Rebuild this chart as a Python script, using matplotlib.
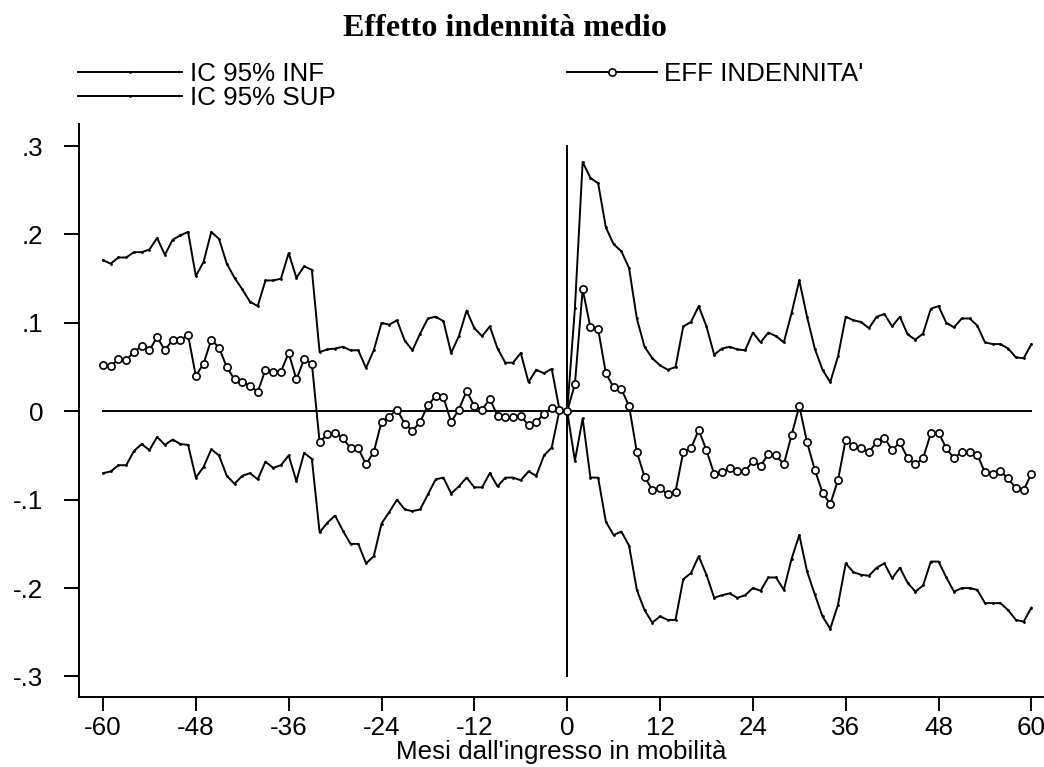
import numpy as np
import matplotlib
matplotlib.use("Agg")
import matplotlib.pyplot as plt

plt.rcParams["font.family"] = ["Liberation Sans", "DejaVu Sans"]

# months relative to entry into mobility
mesi = np.arange(-60, 61)

# upper 95% confidence bound
ic_sup = [
    0.171, 0.167, 0.174, 0.174, 0.180, 0.180, 0.183, 0.196, 0.177, 0.194,
    0.199, 0.203, 0.153, 0.169, 0.203, 0.195, 0.167, 0.151, 0.138, 0.124,
    0.119, 0.148, 0.148, 0.150, 0.179, 0.151, 0.164, 0.160,
    0.067,
    0.070, 0.071, 0.073, 0.069, 0.069, 0.049, 0.069, 0.100, 0.098, 0.103,
    0.080, 0.069, 0.088, 0.105, 0.107, 0.102, 0.066, 0.085, 0.114, 0.094,
    0.085, 0.096, 0.071, 0.055, 0.055, 0.066, 0.033, 0.047, 0.043, 0.048,
    0.002,
    0.000,
    0.117, 0.282, 0.264, 0.258, 0.208, 0.189, 0.181, 0.162, 0.105, 0.073,
    0.060, 0.052, 0.047, 0.050, 0.096, 0.101, 0.119, 0.096, 0.064, 0.071,
    0.073, 0.070, 0.069, 0.089, 0.078, 0.089, 0.085, 0.078, 0.111, 0.148,
    0.107,
    0.071, 0.047, 0.033, 0.062, 0.107, 0.103, 0.101, 0.094, 0.107, 0.110,
    0.096, 0.107, 0.087, 0.081, 0.088, 0.116, 0.119, 0.100, 0.095, 0.105,
    0.105, 0.097, 0.078, 0.076, 0.076, 0.071, 0.061, 0.060, 0.076,
]

# point estimate of the benefit effect
eff = [
    0.052, 0.051, 0.059, 0.058, 0.067, 0.074, 0.069, 0.084, 0.069, 0.081,
    0.081, 0.086, 0.040, 0.054, 0.081, 0.072, 0.050, 0.036, 0.033, 0.029,
    0.022, 0.047, 0.045, 0.045, 0.066, 0.036, 0.059, 0.054,
    -0.035, -0.026, -0.024, -0.030, -0.042, -0.042, -0.060, -0.046, -0.012, -0.006,
    0.002, -0.014, -0.022, -0.012, 0.007, 0.017, 0.016, -0.012, 0.002, 0.023,
    0.006, 0.002, 0.014, -0.005, -0.007, -0.007, -0.005, -0.016, -0.012, -0.003,
    0.004, 0.002,
    0.000,
    0.031, 0.138, 0.095, 0.093, 0.043, 0.027, 0.025, 0.006, -0.046, -0.074,
    -0.089, -0.087, -0.094, -0.091, -0.046, -0.042, -0.021, -0.044, -0.071, -0.069,
    -0.064, -0.068, -0.068, -0.056, -0.062, -0.048, -0.050, -0.060, -0.027, 0.006,
    -0.035,
    -0.066, -0.092, -0.105, -0.078, -0.032, -0.039, -0.042, -0.046, -0.035, -0.030,
    -0.044, -0.035, -0.053, -0.060, -0.053, -0.025, -0.024, -0.042, -0.053, -0.046,
    -0.046, -0.049, -0.069, -0.071, -0.068, -0.076, -0.087, -0.089, -0.071,
]

# lower 95% confidence bound
ic_inf = [
    -0.070, -0.068, -0.061, -0.061, -0.045, -0.037, -0.044, -0.029, -0.038, -0.032,
    -0.037, -0.038, -0.075, -0.063, -0.043, -0.050, -0.073, -0.082, -0.073, -0.070,
    -0.077, -0.057, -0.064, -0.061, -0.050, -0.079, -0.047, -0.054,
    -0.137, -0.126, -0.118, -0.135, -0.150, -0.150, -0.172, -0.164, -0.127, -0.114,
    -0.100, -0.111, -0.113, -0.111, -0.094, -0.077, -0.075, -0.093, -0.085, -0.075,
    -0.086, -0.086, -0.070, -0.085, -0.075, -0.075, -0.078, -0.068, -0.073, -0.050,
    -0.041, 0.001,
    0.000,
    -0.056, -0.008, -0.075, -0.075, -0.125, -0.140, -0.136, -0.152, -0.202, -0.225,
    -0.239, -0.232, -0.236, -0.236, -0.190, -0.183, -0.164, -0.185, -0.211, -0.208,
    -0.206, -0.211, -0.208, -0.200, -0.203, -0.188, -0.188, -0.202, -0.167, -0.140,
    -0.181,
    -0.207, -0.232, -0.246, -0.219, -0.172, -0.182, -0.185, -0.186, -0.177, -0.172,
    -0.189, -0.177, -0.194, -0.204, -0.197, -0.170, -0.170, -0.188, -0.204, -0.200,
    -0.200, -0.202, -0.217, -0.217, -0.217, -0.225, -0.236, -0.238, -0.222,
]

xticks = list(range(-60, 61, 12))
yticks = [0.3, 0.2, 0.1, 0.0, -0.1, -0.2, -0.3]
ytick_labels = [".3", ".2", ".1", "0", "-.1", "-.2", "-.3"]

FS = 18.7
LW = 1.4

W, H = 1044, 767
fig = plt.figure(figsize=(W / 100, H / 100), dpi=100)
ax = fig.add_axes([79 / W, 1 - 697 / H, (1043 - 79) / W, (697 - 124) / H])

# reference lines at zero effect and at month 0
ax.plot([-60, 60], [0, 0], color="black", lw=LW, zorder=1)
ax.plot([0, 0], [-0.3, 0.3], color="black", lw=LW, zorder=1)

l_inf, = ax.plot(mesi, ic_inf, color="black", lw=LW, marker=".", ms=2,
                 label="IC 95% INF", zorder=2)
l_sup, = ax.plot(mesi, ic_sup, color="black", lw=LW, marker=".", ms=2,
                 label="IC 95% SUP", zorder=2)
l_eff, = ax.plot(mesi, eff, color="black", lw=LW, marker="o", ms=5.2,
                 mfc="white", mec="black", mew=1.2,
                 label="EFF INDENNITA'", zorder=3)

ax.set_xlim(-63.1, 61.5)
ax.set_ylim(-0.3232, 0.325)
ax.set_xticks(xticks)
ax.set_xticklabels([str(t) for t in xticks])
ax.set_yticks(yticks)
ax.set_yticklabels(ytick_labels)

for s in ("top", "right"):
    ax.spines[s].set_visible(False)
for s in ("left", "bottom"):
    ax.spines[s].set_linewidth(LW)

ax.tick_params(axis="x", direction="out", length=10, width=LW, pad=4,
               labelsize=FS)
ax.tick_params(axis="y", direction="out", length=10.8, width=LW, pad=15,
               labelsize=FS)
ax.set_xlabel("Mesi dall'ingresso in mobilità", fontsize=FS, labelpad=0)

fig.text(505 / W, 1 - 28 / H, "Effetto indennità medio",
         family="Liberation Serif", weight="bold", fontsize=23,
         ha="center", va="center")

# legend: confidence bounds on the left, estimate on the right
leg_kw = dict(loc="upper left", frameon=False, fontsize=FS,
              handletextpad=0.3, labelspacing=0.0,
              borderpad=0, borderaxespad=0)
leg_ic = fig.legend(handles=[l_inf, l_sup], handlelength=4,
                    bbox_to_anchor=(78 / W, 1 - 62 / H), **leg_kw)
leg_eff = fig.legend(handles=[l_eff], handlelength=3.45,
                     bbox_to_anchor=(567 / W, 1 - 62 / H), **leg_kw)

fig.savefig("out.png", dpi=100)
